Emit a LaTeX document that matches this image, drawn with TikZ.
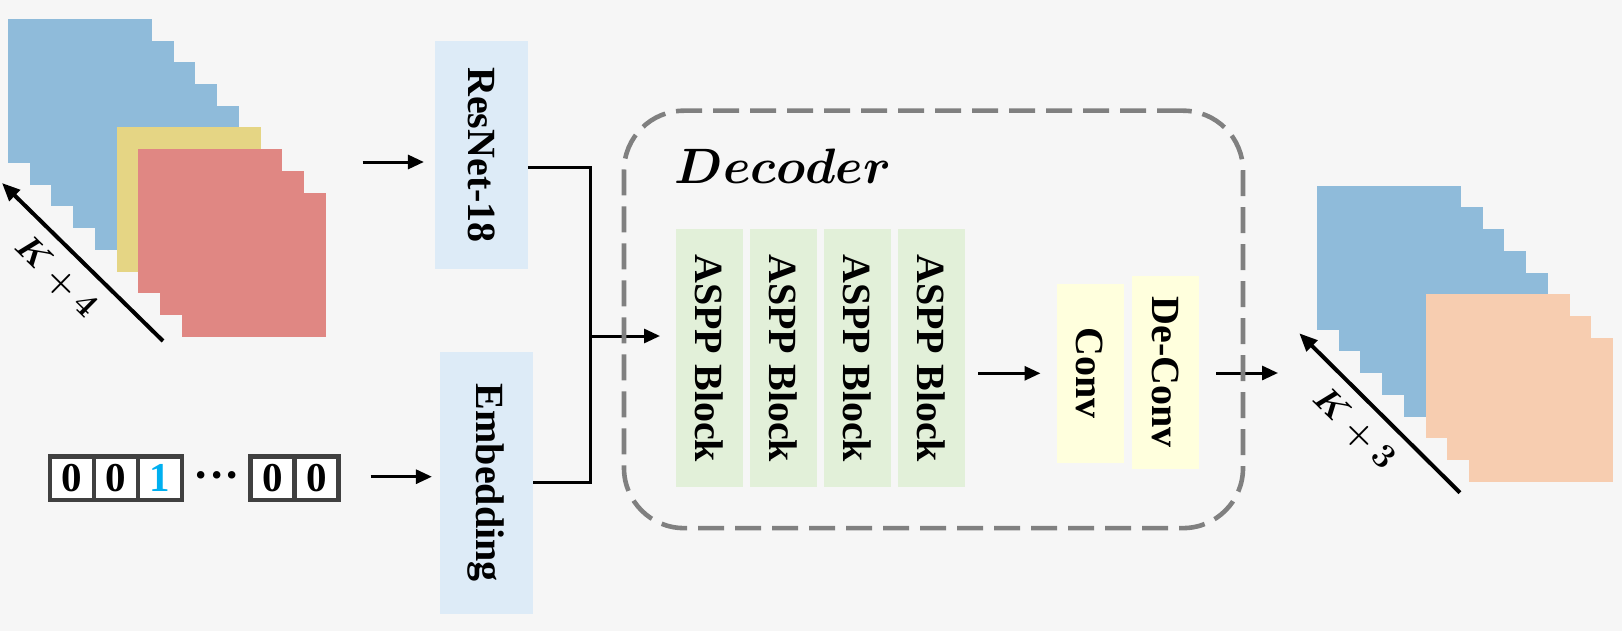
\documentclass[tikz,border=0pt]{standalone}
\usepackage{fontspec}
\setmainfont{Liberation Serif}
\usepackage{bm}
\usepackage{graphicx}
\usetikzlibrary{arrows.meta, positioning, calc}

\definecolor{stackblue}{RGB}{143,187,218}
\definecolor{stackyellow}{RGB}{229,213,132}
\definecolor{stackred}{RGB}{224,135,131}
\definecolor{stackpeach}{RGB}{247,205,176}
\definecolor{encblue}{RGB}{221,235,247}
\definecolor{asppgreen}{RGB}{226,240,217}
\definecolor{convyellow}{RGB}{255,255,221}
\definecolor{hotblue}{RGB}{0,176,240}
\definecolor{bggray}{RGB}{246,246,246}
\definecolor{cellgray}{RGB}{64,64,64}

\tikzset{
    encbox/.style={rectangle, inner sep=0pt, outer sep=0pt, fill=encblue, minimum width=46.5pt,
        font=\bfseries\fontsize{20}{24}\selectfont},
    asppbox/.style={rectangle, inner sep=0pt, outer sep=0pt, fill=asppgreen, minimum width=33.5pt,
        minimum height=129pt, font=\bfseries\fontsize{20}{24}\selectfont},
    convbox/.style={rectangle, inner sep=0pt, outer sep=0pt, fill=convyellow, minimum width=33.5pt,
        font=\bfseries\fontsize{20}{24}\selectfont},
    hotcell/.style={rectangle, inner sep=0pt, outer sep=0pt, draw=cellgray, line width=2.2pt, fill=white,
        minimum width=22pt, minimum height=21.8pt, font=\bfseries\fontsize{20.5}{24}\selectfont},
    flow/.style={-{Triangle[length=8pt, width=7pt]}, line width=1.5pt},
    link/.style={line width=1.5pt, line join=miter},
    dimarrow/.style={-{Triangle[length=9pt, width=7.5pt]}, line width=2pt},
    dimlabel/.style={rotate=-44.5, inner sep=0pt, font=\fontsize{17}{20}\selectfont},
    decoderframe/.style={rectangle, draw=gray, line width=2.3pt, dash pattern=on 13pt off 5.5pt,
        rounded corners=30pt, minimum width=309.5pt, minimum height=208.7pt},
}

\begin{document}
\begin{tikzpicture}[x=0.5pt, y=-0.5pt]
    \useasboundingbox (0,0) rectangle (1622,631);
    \fill[bggray] (0,0) rectangle (1622,631);

    % input frames
    \foreach \i in {0,...,4}
        \fill[stackblue] (8+21.7*\i,19+21.7*\i) rectangle ++(144,144);
    \fill[stackyellow] (8+21.7*5,19+21.7*5) rectangle ++(144,144);
    \foreach \i in {6,7,8}
        \fill[stackred] (8+21.7*\i,19+21.7*\i) rectangle ++(144,144);
    \coordinate (inTail) at (163,341);
    \coordinate (inHead) at (2,183);
    \draw[dimarrow] (inTail) -- (inHead);
    \node[dimlabel] (inLabel) at (56,277) {$\bm{K+4}$};

    % one-hot vector
    \node[hotcell] (hot1) at (71.7,478.3) {0};
    \node[hotcell, right=0pt of hot1] (hot2) {0};
    \node[hotcell, right=0pt of hot2, text=hotblue] (hot3) {1};
    \node[inner sep=0pt, font=\bfseries\fontsize{23}{26}\selectfont] (hotdots) at (216.7,481) {···};
    \node[hotcell] (hot4) at (272.5,478.3) {0};
    \node[hotcell, right=0pt of hot4] (hot5) {0};

    % encoders
    \node[encbox, minimum height=113.5pt] (resnet) at (481.4,155) {\rotatebox{-90}{ResNet-18}};
    \node[encbox, minimum height=130.8pt] (embed) at (486.4,482.8) {\rotatebox{-90}{Embedding}};

    \coordinate (resIn) at (362.7,162);
    \coordinate (embIn) at (370.7,476.7);
    \draw[flow, shorten >=5.5pt] (resIn) -- (resIn -| resnet.west);
    \draw[flow, shorten >=4pt] (embIn) -- (embIn -| embed.west);

    % decoder
    \node[font=\fontsize{23}{27}\selectfont, inner sep=0pt] (decLabel) at (783,166) {$\bm{Decoder}$};
    \node[asppbox] (aspp1) at (709.5,358.3) {\rotatebox{-90}{ASPP Block}};
    \node[asppbox, right=3.5pt of aspp1] (aspp2) {\rotatebox{-90}{ASPP Block}};
    \node[asppbox, right=3.5pt of aspp2] (aspp3) {\rotatebox{-90}{ASPP Block}};
    \node[asppbox, right=3.5pt of aspp3] (aspp4) {\rotatebox{-90}{ASPP Block}};
    \node[convbox, minimum height=89.4pt] (conv) at (1090,373.3) {\rotatebox{-90}{Conv}};
    \node[convbox, minimum height=96.7pt] (deconv) at (1165.8,372.3) {\rotatebox{-90}{De-Conv}};

    \coordinate (join) at (590,336);
    \draw[link] ($(resnet.east)+(0,12)$) -| (join) |- (embed.east);
    \draw[flow, shorten >=8pt] (join) -- (join -| aspp1.west);
    \draw[flow, shorten <=6.5pt, shorten >=8pt] (aspp4.east |- conv.west) -- (conv.west);

    \coordinate (outTip) at (1278,373);
    \draw[flow, shorten <=8.5pt] (deconv.east |- outTip) -- (outTip);

    \node[decoderframe] (decoder) at (933.5,319.4) {};

    % output frames
    \foreach \i in {0,...,4}
        \fill[stackblue] (1317+21.7*\i,185.7+21.7*\i) rectangle ++(144,144);
    \foreach \i in {5,6,7}
        \fill[stackpeach] (1317+21.7*\i,185.7+21.7*\i) rectangle ++(144,144);
    \coordinate (outTail) at (1460,492.7);
    \coordinate (outHead) at (1299.3,333.3);
    \draw[dimarrow] (outTail) -- (outHead);
    \node[dimlabel] (outLabel) at (1354,429) {$\bm{K+3}$};
\end{tikzpicture}
\end{document}
